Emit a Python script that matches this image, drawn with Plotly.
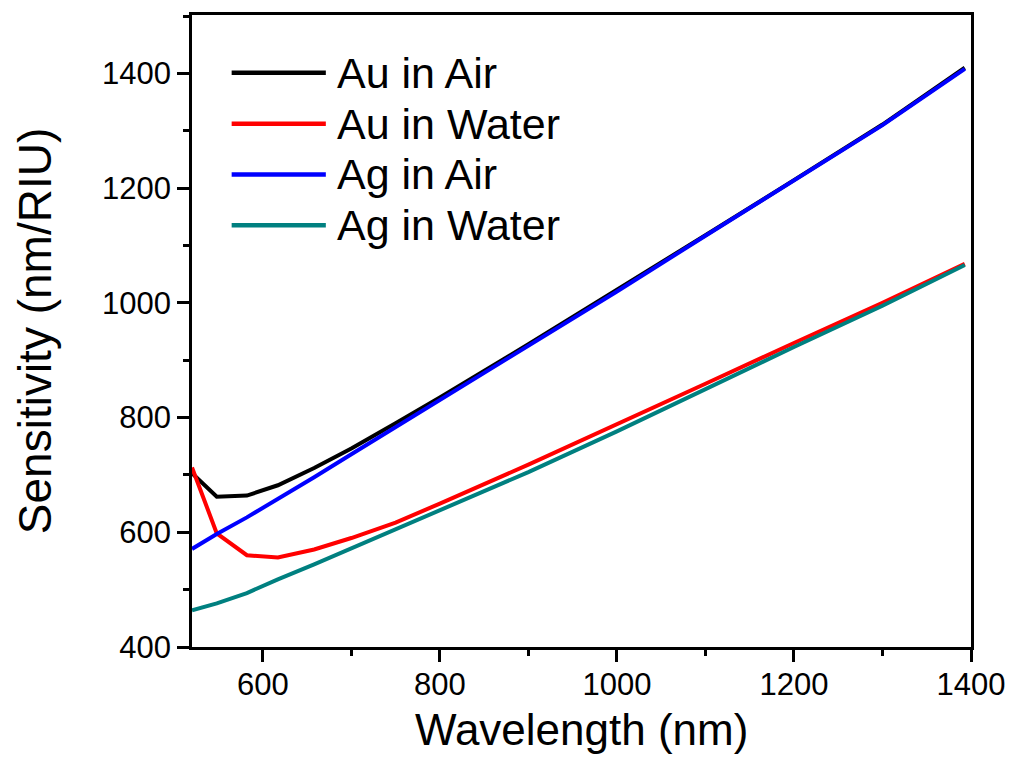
import plotly.graph_objects as go

# Resonance wavelength (nm) for each computed point
wavelength = [520, 548, 582, 617, 658, 700, 750, 800, 900, 1000, 1100, 1200, 1300, 1393]

# Bulk refractive-index sensitivity (nm/RIU)
au_air = [703, 662, 664, 682, 712, 746, 790, 835, 928, 1022, 1118, 1214, 1311, 1410]
au_water = [713, 598, 560, 556, 570, 590, 617, 650, 718, 788, 859, 930, 1000, 1068]
ag_air = [571, 597, 626, 658, 696, 736, 783, 830, 925, 1020, 1117, 1213, 1310, 1408]
ag_water = [464, 476, 494, 518, 544, 572, 605, 638, 705, 776, 850, 923, 995, 1066]

series_names = ["Au in Air", "Au in Water", "Ag in Air", "Ag in Water"]
series_values = [au_air, au_water, ag_air, ag_water]
series_colors = ["#000000", "#FF0000", "#0000FF", "#008080"]

FONT = "Arial, Liberation Sans, sans-serif"

fig = go.Figure()

for name, vals, col in zip(series_names, series_values, series_colors):
    fig.add_trace(go.Scatter(
        x=wavelength, y=vals, name=name, mode="lines",
        line=dict(color=col, width=4), showlegend=False,
    ))

# Custom legend with long sample lines
legend_top = 0.9085
legend_step = 0.0804
for i, (name, col) in enumerate(zip(series_names, series_colors)):
    yy = legend_top - i * legend_step
    fig.add_shape(type="line", xref="paper", yref="paper",
                  x0=0.0509, x1=0.1718, y0=yy, y1=yy,
                  line=dict(color=col, width=4.5))
    fig.add_annotation(text=name, xref="paper", yref="paper",
                       x=0.1840, y=yy, xanchor="left", yanchor="middle",
                       showarrow=False, font=dict(family=FONT, size=43, color="black"))

# X-axis title placed explicitly under the tick labels
fig.add_annotation(text="Wavelength (nm)", xref="paper", yref="paper",
                   x=0.5, y=-0.131, xanchor="center", yanchor="middle",
                   showarrow=False, font=dict(family=FONT, size=44, color="black"))

axis_common = dict(
    showline=True, linecolor="black", linewidth=2.5, mirror=True,
    ticks="outside", ticklen=12, tickwidth=2.5, tickcolor="black",
    showgrid=False, zeroline=False,
    tickfont=dict(family=FONT, size=31, color="black"),
)

fig.update_xaxes(
    range=[520, 1400], tick0=600, dtick=200, ticklabelstandoff=-4,
    minor=dict(dtick=100, tick0=500, ticks="outside", ticklen=6, tickwidth=2.5, tickcolor="black"),
    **axis_common,
)
fig.update_yaxes(
    range=[400, 1502], tick0=400, dtick=200,
    minor=dict(dtick=100, tick0=400, ticks="outside", ticklen=6, tickwidth=2.5, tickcolor="black"),
    title=dict(text="Sensitivity (nm/RIU)", font=dict(family=FONT, size=46, color="black"), standoff=36),
    **axis_common,
)

fig.update_layout(
    width=1017, height=765,
    margin=dict(l=192, r=39, t=13, b=118),
    paper_bgcolor="white", plot_bgcolor="white",
)

fig.write_html("out.html")
